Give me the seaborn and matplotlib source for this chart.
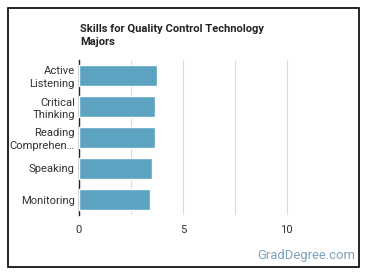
import matplotlib
matplotlib.use("Agg")
import matplotlib.pyplot as plt
import seaborn as sns
import pandas as pd
from matplotlib.patches import Rectangle

skills = ["Active\nListening", "Critical\nThinking", "Reading\nComprehen…", "Speaking", "Monitoring"]
values = [3.76, 3.67, 3.67, 3.52, 3.43]
x_ticks = [0, 5, 10]
x_minor = [2.5, 7.5]

sns.set_theme(style="white")
plt.rcParams['font.family'] = ['Roboto', 'DejaVu Sans']

df = pd.DataFrame({"skill": skills, "value": values})

fig = plt.figure(figsize=(3.70, 2.78), dpi=100)
ax = fig.add_axes([79/370, (278-215)/278, (349-79)/370, (215-60)/278])

sns.barplot(data=df, x="value", y="skill", color="#5ba3c1", width=0.65,
            saturation=1, ax=ax, zorder=3)

ax.set_xlim(0, 13)
ax.set_ylim(4.5, -0.5)
ax.set_xticks(x_ticks)
ax.set_xticklabels([str(t) for t in x_ticks])
ax.set_xticks(x_minor, minor=True)
ax.grid(True, axis="x", which="both", color="#dcdcdc", linewidth=0.8, zorder=0)
ax.set_axisbelow(True)
ax.set_xlabel("")
ax.set_ylabel("")
for s in ["top", "right", "bottom"]:
    ax.spines[s].set_visible(False)
ax.spines["left"].set_color("#222222")
ax.spines["left"].set_linewidth(1.0)
ax.tick_params(axis="both", which="both", length=0, labelsize=8.1, colors="#333333")
ax.tick_params(axis="x", pad=7)
ax.tick_params(axis="y", pad=3)
for lab in ax.get_yticklabels():
    lab.set_linespacing(1.3)

fig.text(80/370, 1 - 35.5/278, "Skills for Quality Control Technology\nMajors",
         fontsize=8.0, fontweight="bold", color="#222222", ha="left", va="center",
         linespacing=1.4)
fig.text(355/370, 1 - 256/278, "GradDegree.com", fontsize=9.4, color="#7ba3bd",
         ha="right", va="center")

fig.patches.append(Rectangle((8/370, 1 - 267/278), (359-8)/370, (267-8)/278,
                             transform=fig.transFigure, fill=False,
                             edgecolor="black", linewidth=1.2))

fig.savefig("out.png", dpi=100)
